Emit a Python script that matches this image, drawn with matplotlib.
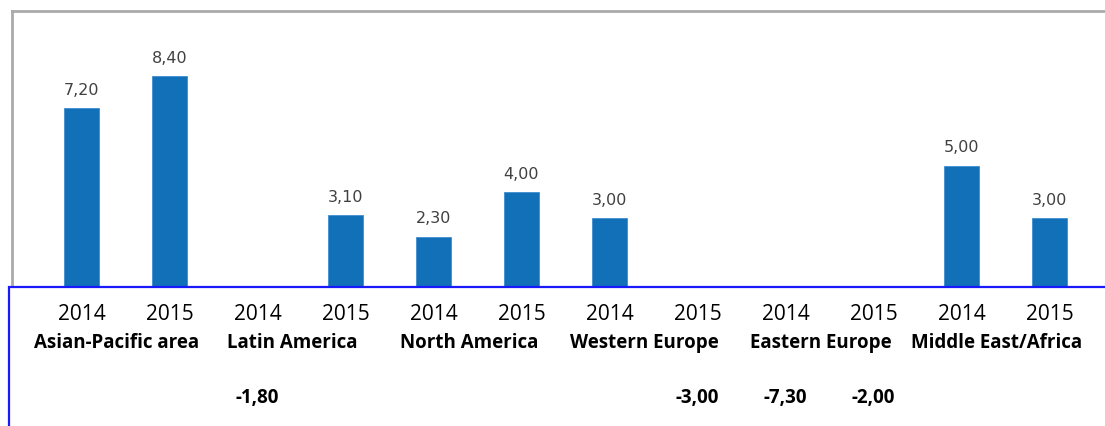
import numpy as np
import matplotlib.pyplot as plt
from matplotlib.patches import Rectangle
from matplotlib.transforms import blended_transform_factory

regions = ["Asian-Pacific area", "Latin America", "North America",
           "Western Europe", "Eastern Europe", "Middle East/Africa"]
years = ["2014", "2015"]
values_2014 = [7.20, -1.80, 2.30, 3.00, -7.30, 5.00]
values_2015 = [8.40, 3.10, 4.00, -3.00, -2.00, 3.00]

W, H = 1105, 427
fig = plt.figure(figsize=(W / 100, H / 100), dpi=100)

# bar layout: one bar per (region, year), evenly spaced
vals = np.ravel(np.column_stack([values_2014, values_2015]))
xs = np.arange(len(vals))
px_per_x = 88.0
px_per_y = 26.3
x0_px = 81.5          # centre of first bar in pixels
base_px = 298.0       # zero line (from top)
ylo, yhi = -8.0, (base_px - 12) / px_per_y
xlo = -(x0_px - 12) / px_per_x
xhi = (1200 - x0_px) / px_per_x

ax_h = (yhi - ylo) * px_per_y / H
ax_top = (H - 12) / H
ax = fig.add_axes([12 / W, ax_top - ax_h, (1200 - 12) / W, ax_h])
ax.set_xlim(xlo, xhi)
ax.set_ylim(ylo, yhi)

ax.bar(xs, vals, width=0.4, color="#1170b8", edgecolor="#3d8ed0", linewidth=0.6)

for x, v in zip(xs, vals):
    if v > 0:
        ax.annotate(f"{v:.2f}".replace(".", ","), (x, v), xytext=(0, 8),
                    textcoords="offset points", ha="center", va="bottom",
                    fontsize=11.5, color="#404040", family="DejaVu Sans")

ax.set_xticks([])
ax.set_yticks([])
for side in ["top", "left"]:
    ax.spines[side].set_color("#aaaaaa")
    ax.spines[side].set_linewidth(2)
ax.spines["right"].set_visible(False)
ax.spines["bottom"].set_visible(False)

# white label box with blue border laid over the lower part
box_top = 1 - 288 / H
box = Rectangle((9 / W, -0.2), 1.2, box_top + 0.2, transform=fig.transFigure,
                facecolor="white", edgecolor="#1a1aff", linewidth=1.6,
                zorder=10, clip_on=False)
fig.add_artist(box)

tr = blended_transform_factory(ax.transData, fig.transFigure)
for i, x in enumerate(xs):
    fig.text(x, 1 - 315 / H, years[i % 2], transform=tr, zorder=11,
             ha="center", va="center", fontsize=15,
             family="Open Sans", color="black")

for i, name in enumerate(regions):
    fig.text(2 * i + 0.4, 1 - 343 / H, name, transform=tr, zorder=11,
             ha="center", va="center", fontsize=13.5, fontweight="bold",
             family="Open Sans", color="black")

for x, v in zip(xs, vals):
    if v < 0:
        fig.text(x, 1 - 398 / H, f"{v:.2f}".replace(".", ","), transform=tr,
                 zorder=11, ha="center", va="center", fontsize=13.5,
                 fontweight="bold", family="Open Sans", color="black")

fig.savefig("out.png", dpi=100)
